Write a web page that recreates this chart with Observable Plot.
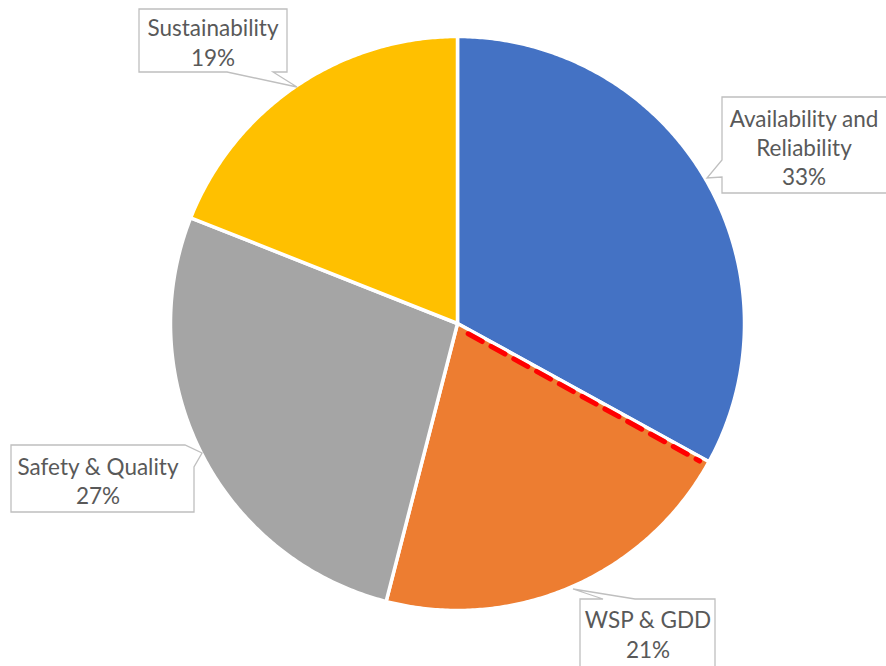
<!DOCTYPE html>
<html><head><meta charset="utf-8">
<script src="https://cdn.jsdelivr.net/npm/d3@7"></script>
<script src="https://cdn.jsdelivr.net/npm/@observablehq/plot@0.6"></script>
<style>body{margin:0;background:#fff;overflow:hidden}</style>
</head><body><div id="chart"></div>
<script>
// ---- data ----
const categories = ["Availability and Reliability", "WSP & GDD", "Safety & Quality", "Sustainability"];
const values = [33, 21, 27, 19];
const colors = ["#4472C4", "#ED7D31", "#A5A5A5", "#FFC000"];
const labelNames = [["Availability and", "Reliability"], ["WSP & GDD"], ["Safety & Quality"], ["Sustainability"]];
const highlightBoundary = "Availability and Reliability"; // red dashed edge after this slice

// ---- callout layout (pixels) ----
const layout = {
  "Availability and Reliability": {path: "M722,97 H890 V193 H722 V177 L707,178 L722,160 Z", cx: 804, cy: [119, 148, 177]},
  "WSP & GDD": {path: "M580,599 H603 L573,589 L635,599 H715 V672 H580 Z", cx: 648, cy: [620, 650]},
  "Safety & Quality": {path: "M11,445 H185 L202,453 L194,467 V512 H11 Z", cx: 98, cy: [467, 496]},
  "Sustainability": {path: "M139,9 H287 V72 H273 L297,87 L227,72 H139 Z", cx: 213, cy: [28, 58]}
};

// ---- geometry from values ----
const total = d3.sum(values);
let acc = 0;
const slicePts = [];
const bounds = {};
categories.forEach((c, i) => {
  const a0 = acc / total * 2 * Math.PI;
  acc += values[i];
  const a1 = acc / total * 2 * Math.PI;
  bounds[c] = a1;
  slicePts.push({name: c, x: 0, y: 0});
  const n = Math.max(2, Math.ceil((a1 - a0) / (Math.PI / 360)));
  for (let k = 0; k <= n; k++) {
    const a = a0 + (a1 - a0) * k / n;
    slicePts.push({name: c, x: Math.sin(a), y: Math.cos(a)});
  }
  slicePts.push({name: c, x: 0, y: 0});
});
const ab = bounds[highlightBoundary];
const redLine = [0.05, 0.97].map(r => ({x: r * Math.sin(ab), y: r * Math.cos(ab)}));

const callouts = () => {
  const g = d3.create("svg:g");
  categories.forEach((c, i) => {
    const L = layout[c];
    g.append("path").attr("d", L.path).attr("fill", "#fff").attr("stroke", "#BFBFBF").attr("stroke-width", 1.3);
    const lines = [...labelNames[i], values[i] + "%"];
    lines.forEach((t, k) => {
      g.append("text").attr("x", L.cx).attr("y", L.cy[k]).attr("dy", "0.36em")
        .attr("text-anchor", "middle").attr("fill", "#595959")
        .style("font-family", "Lato, sans-serif").style("font-size", "22.5px").text(t);
    });
  });
  return g.node();
};

const chart = Plot.plot({
  width: 886, height: 666,
  marginLeft: 170, marginRight: 142, marginTop: 36, marginBottom: 56,
  x: {domain: [-1, 1], axis: null},
  y: {domain: [-1, 1], axis: null},
  color: {domain: categories, range: colors},
  style: {background: "#fff"},
  marks: [
    Plot.line(slicePts, {x: "x", y: "y", z: "name", fill: "name", stroke: "#fff", strokeWidth: 3.5, strokeLinejoin: "round"}),
    Plot.line(redLine, {x: "x", y: "y", stroke: "#FF0000", strokeWidth: 5, strokeDasharray: "16,10", dx: -1.9, dy: 3.4}),
    callouts
  ]
});
document.getElementById("chart").appendChild(chart);
</script>
</body></html>
